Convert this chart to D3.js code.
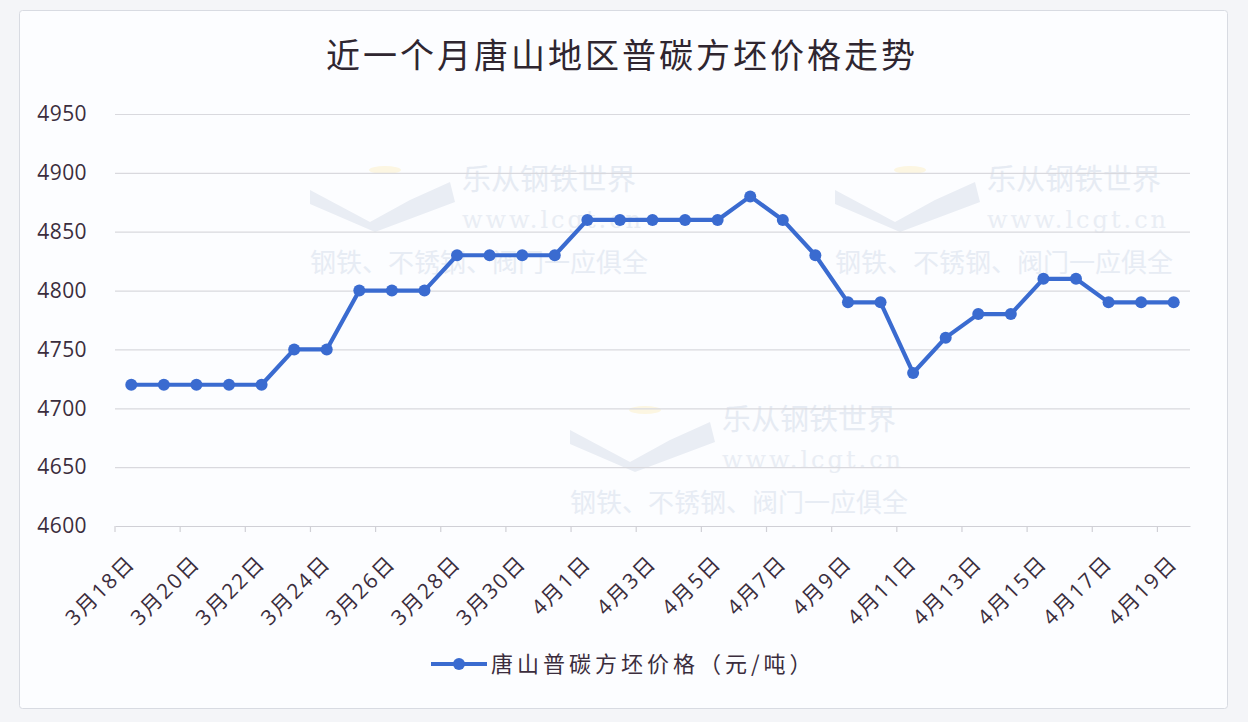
<!DOCTYPE html>
<html><head><meta charset="utf-8">
<script src="https://cdn.jsdelivr.net/npm/d3@7"></script>
<style>
html,body{margin:0;padding:0;background:#f4f5f8;}
svg{display:block;font-family:"Noto Sans CJK SC","Noto Sans",sans-serif;}
</style></head><body>
<svg id="c" width="1248" height="722"></svg>
<script>
const title = "近一个月唐山地区普碳方坯价格走势";
const seriesName = "唐山普碳方坯价格（元/吨）";
const categories = ["3月18日","3月19日","3月20日","3月21日","3月22日","3月23日","3月24日","3月25日","3月26日","3月27日","3月28日","3月29日","3月30日","3月31日","4月1日","4月2日","4月3日","4月4日","4月5日","4月6日","4月7日","4月8日","4月9日","4月10日","4月11日","4月12日","4月13日","4月14日","4月15日","4月16日","4月17日","4月18日","4月19日"];
const values = [4720,4720,4720,4720,4720,4750,4750,4800,4800,4800,4830,4830,4830,4830,4860,4860,4860,4860,4860,4880,4860,4830,4790,4790,4730,4760,4780,4780,4810,4810,4790,4790,4790];
const yTicks = [4600,4650,4700,4750,4800,4850,4900,4950];
const watermarkLines = ["乐从钢铁世界","www.lcgt.cn","钢铁、不锈钢、阀门一应俱全"];

const svg = d3.select("#c");
const m = {l:115, r:1190, t:114, b:526};
const textCol = "#3b2d3d";
const lineCol = "#3a6bd0";

svg.append("rect").attr("x",19.5).attr("y",10.5).attr("width",1208).attr("height",698)
  .attr("rx",3).attr("fill","#fcfdff").attr("stroke","#d8dbe2");

const x = d3.scaleBand().domain(categories).range([m.l,m.r]).padding(0);
const y = d3.scaleLinear().domain([4600,4950]).range([m.b,m.t]);

// watermarks
const wms = [[310,160],[835,160],[570,400]];
wms.forEach(([wx,wy])=>{
  const g = svg.append("g");
  g.append("path").attr("d",`M${wx} ${wy+30} L${wx+60} ${wy+62} L${wx+100} ${wy+40} L${wx+140} ${wy+22} L${wx+145} ${wy+42} L${wx+65} ${wy+72} L${wx} ${wy+44} Z`)
    .attr("fill","#e9edf4");
  g.append("ellipse").attr("cx",wx+75).attr("cy",wy+10).attr("rx",16).attr("ry",4).attr("fill","#fcf6e2");
  g.append("text").attr("x",wx+152).attr("y",wy+30).attr("font-size",29).attr("fill","#e6ebf3").text(watermarkLines[0]);
  g.append("text").attr("x",wx+152).attr("y",wy+68).attr("font-size",24).attr("letter-spacing",3).attr("font-family","'DejaVu Serif',serif").attr("fill","#e9edf4").text(watermarkLines[1]);
  g.append("text").attr("x",wx).attr("y",wy+112).attr("font-size",26).attr("fill","#e7ecf4").text(watermarkLines[2]);
});

// grid
const yAxis = d3.axisLeft(y).tickValues(yTicks).tickSize(-(m.r-m.l)).tickFormat(d3.format("d"));
const gy = svg.append("g").attr("transform",`translate(${m.l},0)`).call(yAxis);
gy.select(".domain").remove();
gy.selectAll(".tick line").attr("stroke","#d9d9de").attr("stroke-width",1.2);
gy.selectAll(".tick text").attr("x",-28).attr("font-size",21).attr("letter-spacing",0.4).attr("fill",textCol).attr("font-family","'Open Sans','Noto Sans',sans-serif");
gy.selectAll(".tick").filter(d=>d===4600).select("line").remove();

// x axis
const xAxis = d3.axisBottom(x).tickValues(categories.filter((d,i)=>i%2===0)).tickSize(0).tickPadding(0);
const gx = svg.append("g").attr("transform",`translate(0,${m.b})`).call(xAxis);
gx.select(".domain").attr("stroke","#d0d0d6").attr("stroke-width",1.2);
gx.selectAll(".tick text")
  .attr("font-size",21).attr("letter-spacing",2).attr("fill",textCol).attr("text-anchor","end")
  .attr("transform","translate(0,33) rotate(-45)").attr("dy","0.35em").attr("x",0).attr("y",0)
  .attr("font-family","'Open Sans','Noto Sans CJK SC',sans-serif");
categories.forEach((c,i)=>{
  if(i%2===0){
    const xx = x(c);
    gx.append("line").attr("x1",xx).attr("x2",xx).attr("y1",0).attr("y2",6).attr("stroke","#d0d0d6").attr("stroke-width",1.2);
  }
});

// line
const line = d3.line().x((d,i)=>x(categories[i])+x.bandwidth()/2).y(d=>y(d));
svg.append("path").datum(values).attr("d",line).attr("fill","none").attr("stroke",lineCol).attr("stroke-width",4.2).attr("stroke-linejoin","round");
svg.append("g").selectAll("circle").data(values).join("circle")
  .attr("cx",(d,i)=>x(categories[i])+x.bandwidth()/2).attr("cy",d=>y(d)).attr("r",6).attr("fill",lineCol);

// title
svg.append("text").attr("x",622).attr("y",68).attr("text-anchor","middle").attr("font-size",34).attr("letter-spacing",3).attr("fill","#2f2630").text(title);

// legend
const lg = svg.append("g").attr("transform","translate(431,664)");
lg.append("line").attr("x1",0).attr("x2",56).attr("y1",0).attr("y2",0).attr("stroke",lineCol).attr("stroke-width",4.2);
lg.append("circle").attr("cx",28).attr("cy",0).attr("r",6).attr("fill",lineCol);
lg.append("text").attr("x",60).attr("y",0).attr("dy","0.36em").attr("font-size",22).attr("letter-spacing",4).attr("fill",textCol).text(seriesName);
</script>
</body></html>
